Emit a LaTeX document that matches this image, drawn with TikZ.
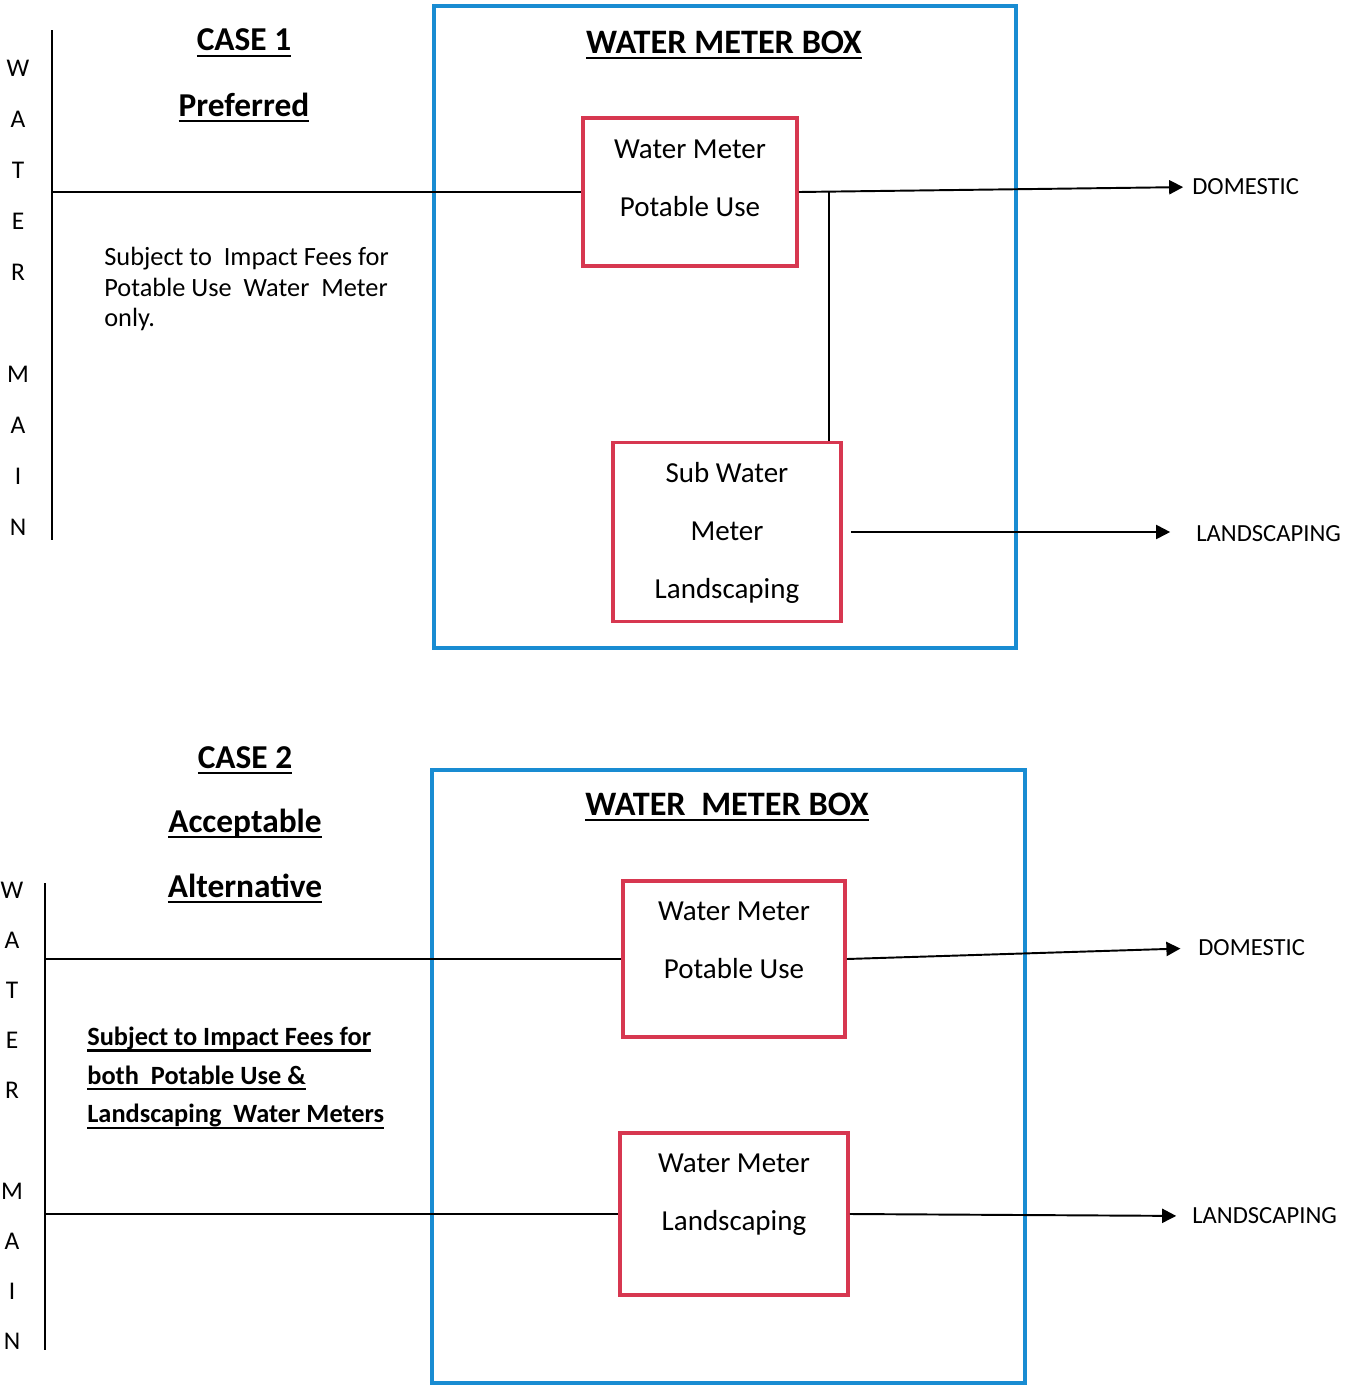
\documentclass[tikz,border=0pt]{standalone}
\usepackage{fontspec}
\setmainfont{Carlito}
\usepackage{tikz}
\usetikzlibrary{arrows.meta}
\usetikzlibrary{positioning}

\definecolor{boxblue}{RGB}{25,140,210}
\definecolor{meterred}{RGB}{215,55,80}

\newcommand{\undl}[1]{\setbox0=\hbox{#1}\rlap{\vrule height -2.2pt depth 3.5pt width \wd0}\box0}

\begin{document}
\begin{tikzpicture}[x=0.02cm, y=-0.02cm,
    pipe/.style={draw=black, line width=1.1pt},
    flow/.style={pipe, -{Triangle[length=8pt,width=8pt]}, shorten >=5pt},
    boxwall/.style={draw=boxblue, line width=2.8pt},
    meter/.style={draw=meterred, line width=2.2pt, inner sep=0pt},
    meterlbl/.style={align=center, inner sep=0pt, font=\fontsize{16.5}{33}\selectfont},
    casetitle/.style={anchor=base, inner sep=0pt, font=\bfseries\fontsize{19}{23}\selectfont},
    boxtitle/.style={anchor=base, inner sep=0pt, font=\bfseries\fontsize{19.5}{23}\selectfont},
    outlbl/.style={anchor=west, inner sep=0pt, font=\fontsize{14}{17}\selectfont},
    mainlbl/.style={inner sep=0pt, font=\fontsize{14.5}{17}\selectfont}]
    \useasboundingbox (0,0) rectangle (1357,1386);

    % case 1
    \draw[boxwall] (434,6) rectangle (1016,648);
    \node[boxtitle] (hdr1) at (724,53) {\undl{WATER METER BOX}};
    \node[casetitle] (case1) at (244,51) {\undl{CASE 1}};
    \node[casetitle] (pref1) at (244,116) {\undl{Preferred}};

    \foreach \ch/\k in {W/0,A/1,T/2,E/3,R/4,M/6,A/7,I/8,N/9}
        \node[mainlbl] (wa\k) at (18,68+51*\k) {\ch};
    \coordinate (main1top) at (52,30);
    \coordinate (main1bot) at (52,540);
    \draw[pipe] (main1top) -- (main1bot);

    \node[meter, minimum width=4.28cm, minimum height=2.96cm] (pot1) at (690,192) {};
    \node[meterlbl] (pot1txt) at (690,178) {Water Meter\\Potable Use};
    \node[meter, minimum width=4.56cm, minimum height=3.58cm] (sub1) at (727,532) {};
    \node[meterlbl] (sub1txt) at (727,533) {Sub Water\\Meter\\Landscaping};

    \node[outlbl] (dom1) at (1192,187) {DOMESTIC};
    \node[outlbl] (land1) at (1196,534) {LANDSCAPING};
    \node[anchor=west, align=left, inner sep=0pt, font=\fontsize{15}{17.6}\selectfont] (fee1) at (104,289)
        {Subject to\ \ Impact Fees for\\Potable Use\ \ Water\ \ Meter\\only.};

    \draw[pipe] (main1top |- pot1.west) -- (pot1.west);
    \draw[flow] (pot1.east) -- (dom1.west);
    \coordinate (tee1) at ([xshift=0.6cm]pot1.east);
    \draw[pipe] (tee1) -- (tee1 |- sub1.north);
    \draw[flow, shorten <=4.5pt, shorten >=14.7pt] (sub1.east) -- (sub1.east -| land1.west);

    % case 2
    \draw[boxwall] (432,770) rectangle (1025,1383);
    \node[boxtitle] (hdr2) at (727,815) {\undl{WATER\ \ METER BOX}};
    \node[casetitle] (case2) at (245,768) {\undl{CASE 2}};
    \node[casetitle] (acc2) at (245,832) {\undl{Acceptable}};
    \node[casetitle] (alt2) at (245,897) {\undl{Alternative}};

    \foreach \ch/\k in {W/0,A/1,T/2,E/3,R/4,M/6,A/7,I/8,N/9}
        \node[mainlbl] (wb\k) at (12,890+50.2*\k) {\ch};
    \coordinate (main2top) at (45,883);
    \coordinate (main2bot) at (45,1350);
    \draw[pipe] (main2top) -- (main2bot);

    \node[meter, minimum width=4.44cm, minimum height=3.12cm] (pot2) at (734,959) {};
    \node[meterlbl] (pot2txt) at (734,940) {Water Meter\\Potable Use};
    \node[meter, minimum width=4.56cm, minimum height=3.24cm] (lsc2) at (734,1214) {};
    \node[meterlbl] (lsc2txt) at (734,1195) {Water Meter\\Landscaping};

    \node[outlbl] (dom2) at (1198,948) {DOMESTIC};
    \node[outlbl] (land2) at (1192,1216) {LANDSCAPING};
    \node[anchor=west, align=left, inner sep=0pt, font=\bfseries\fontsize{15}{22}\selectfont] (fee2) at (87,1078)
        {\undl{Subject to Impact Fees for}\\\undl{both\ \ Potable Use \&}\\\undl{Landscaping\ \ Water Meters}};

    \draw[pipe] (main2top |- pot2.west) -- (pot2.west);
    \draw[flow, shorten >=10pt] (pot2.east) -- (dom2.west);
    \draw[pipe] (main2top |- lsc2.west) -- (lsc2.west);
    \draw[flow, shorten >=9pt] (lsc2.east) -- (land2.west);
\end{tikzpicture}
\end{document}
